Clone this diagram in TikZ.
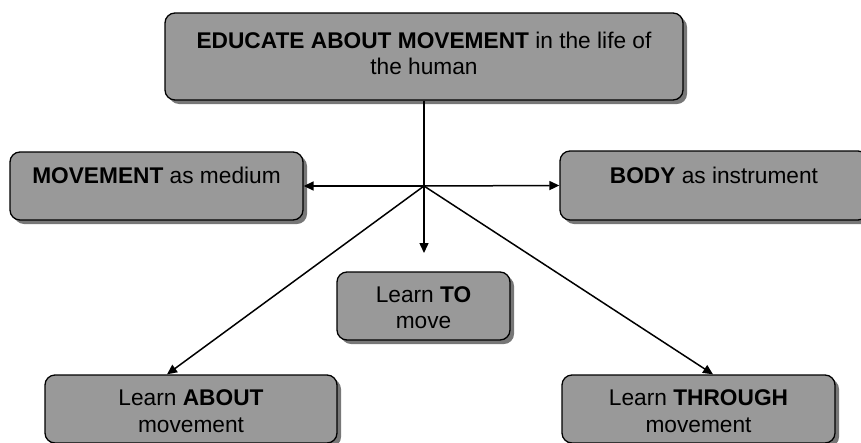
\documentclass[tikz,border=0pt]{standalone}
\usepackage{fontspec}
\setmainfont{Liberation Sans}
\usetikzlibrary{shadows,arrows.meta,calc}
\definecolor{boxgray}{HTML}{999999}
\definecolor{shadowgray}{HTML}{777777}
\begin{document}
\begin{tikzpicture}[x=1pt,y=-1pt,
  boxstyle/.style={draw=black, line width=1.3pt, fill=boxgray, rounded corners=10pt,
    general shadow={fill=shadowgray, shadow xshift=4pt, shadow yshift=-4pt}, inner sep=0pt},
  lbl/.style={inner sep=0pt, anchor=base, font=\fontsize{22.7}{26}\selectfont},
  conn/.style={line width=1.5pt},
  arr/.style={conn, -{Triangle[length=10pt,width=9pt]}}]
\useasboundingbox (0,0) rectangle (861,442);
\clip (0,0) rectangle (861,442);
% boxes
\node[boxstyle, minimum width=518pt, minimum height=87pt] (top) at (424,56.5) {};
\node[boxstyle, minimum width=293pt, minimum height=68pt] (left) at (156.5,186) {};
\node[boxstyle, minimum width=308pt, minimum height=69pt] (right) at (714,185.5) {};
\node[boxstyle, minimum width=173pt, minimum height=68pt] (to) at (423.5,306) {};
\node[boxstyle, minimum width=292pt, minimum height=68pt] (about) at (191,409) {};
\node[boxstyle, minimum width=273pt, minimum height=68pt] (through) at (698.5,409) {};
% texts
\node[lbl] (topA) at (424,48) {\textbf{EDUCATE ABOUT MOVEMENT} in the life of};
\node[lbl] (topB) at (424,74) {the human};
\node[lbl] (leftA) at (156.5,183) {\textbf{MOVEMENT} as medium};
\node[lbl] (rightA) at (714,183) {\textbf{BODY} as instrument};
\node[lbl] (toA) at (423.5,302) {Learn \textbf{TO}};
\node[lbl] (toB) at (423.5,328) {move};
\node[lbl] (aboutA) at (191,405) {Learn \textbf{ABOUT}};
\node[lbl] (aboutB) at (191,432) {movement};
\node[lbl] (throughA) at (698.5,405) {Learn \textbf{THROUGH}};
\node[lbl] (throughB) at (698.5,432) {movement};
% connectors
\coordinate (j) at (424,186);
\coordinate (down) at (424,253);
\draw[conn] (top.south) -- (j);
\draw[arr] (j) -- (left.east);
\draw[arr] (j) -- (right.west);
\draw[arr] (j) -- (down);
\draw[arr] (j) -- ($(about.north)+(-24,0)$);
\draw[arr] (j) -- ($(through.north)+(14.5,0)$);
\end{tikzpicture}
\end{document}
